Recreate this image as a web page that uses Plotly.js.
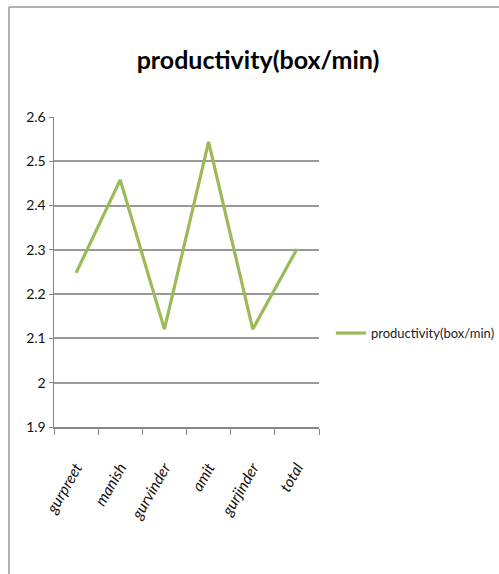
<!DOCTYPE html>
<html><head><meta charset="utf-8">
<script src="https://cdn.plot.ly/plotly-3.0.1.min.js"></script>
<style>html,body{margin:0;padding:0;background:#fff}#c{width:499px;height:574px}</style>
</head><body><div id="c"></div>
<script>
const categories = ["gurpreet","manish","gurvinder","amit","gurjinder","total"];
const productivity = [2.248, 2.458, 2.121, 2.544, 2.121, 2.302];
const seriesName = "productivity(box/min)";
const yTicks = [1.9, 2, 2.1, 2.2, 2.3, 2.4, 2.5, 2.6];

const F = "Lato, sans-serif";
const trace = {
  x: categories, y: productivity, name: seriesName, type: "scatter", mode: "lines",
  line: {color: "#9BBB59", width: 3.2}
};
const layout = {
  width: 499, height: 574,
  margin: {l: 54, r: 180, t: 117, b: 147, autoexpand: false},
  paper_bgcolor: "#fff", plot_bgcolor: "#fff",
  title: {text: "<b>productivity(box/min)</b>", font: {family: F, size: 25, color: "#000"},
          x: 0.517, xref: "container", xanchor: "center", y: 0.895, yref: "container", yanchor: "middle"},
  xaxis: {type: "category", tickson: "boundaries", ticks: "outside", ticklen: 6, tickcolor: "#888",
          showline: true, linecolor: "#888", linewidth: 1.5, showgrid: false,
          tickangle: -60, tickfont: {family: F, size: 15.5, color: "#111", style: "italic"}, ticklabelstandoff: 24,
          range: [-0.5, 5.5]},
  yaxis: {range: [1.9, 2.6], tickvals: yTicks, ticks: "outside", ticklen: 4, tickcolor: "#888",
          showline: true, linecolor: "#888", linewidth: 1.5, gridcolor: "#999", gridwidth: 2,
          zeroline: false, tickfont: {family: F, size: 14, color: "#111"}},
  showlegend: true,
  legend: {x: 1.045, xanchor: "left", y: 0.303, yanchor: "middle", font: {family: F, size: 13, color: "#222"},
           bgcolor: "rgba(0,0,0,0)", itemwidth: 30},
  shapes: [
    {type: "line", xref: "paper", yref: "paper", x0: -0.17, x1: -0.17, y0: -0.5, y1: 1.355, line: {color: "#999", width: 1.5}},
    {type: "line", xref: "paper", yref: "paper", x0: -0.17, x1: 1.8, y0: 1.355, y1: 1.355, line: {color: "#999", width: 1.5}}
  ]
};
Plotly.newPlot("c", [trace], layout, {displayModeBar: false, staticPlot: true});
</script></body></html>
